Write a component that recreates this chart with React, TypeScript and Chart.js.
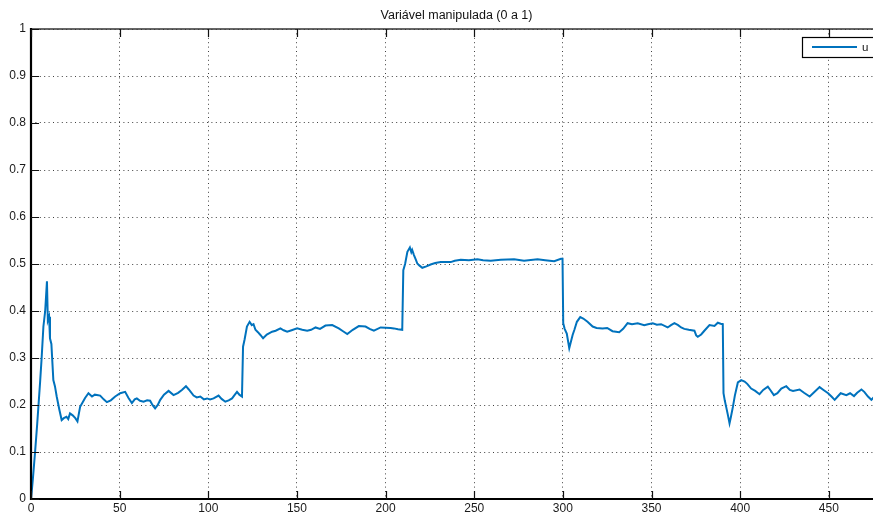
import React, { useEffect, useRef } from "react";
import { Chart, registerables } from "chart.js";

Chart.register(...registerables);

const TITLE = "Variável manipulada (0 a 1)";
const SERIES_LABEL = "u";

// time (x) and manipulated variable (u)
const tValues: number[] = [
  0, 1, 2.3, 3.5, 5.1, 6, 7, 8, 9, 9.5, 10.2, 10.7, 11.5, 12.6, 13.5, 14.5, 16, 17.3, 18.5, 20,
  21, 22, 23.5, 25, 26.2, 27.7, 29, 30.5, 32.4, 34.4, 36, 39, 41, 42.8, 45, 47.5, 50.3, 53.1, 55, 56.9,
  58.5, 59.7, 61.5, 63.5, 65.5, 67.2, 68.5, 70, 71.5, 72.9, 75, 77.6, 80.4, 83, 85.1, 87.4, 89, 91.7, 93.5, 95.5,
  97.5, 99.3, 101, 103, 105.8, 107.5, 109.6, 111.5, 113.4, 115, 116.2, 117.5, 119, 119.6, 120.5, 121.8, 123.3, 124.5, 125.5, 126.6,
  128, 129.4, 130.9, 133, 136, 138, 140.7, 142.5, 144.5, 147, 150.1, 153, 155.8, 158, 160.5, 163, 166.1, 169.9, 173.6, 176,
  178.4, 181.5, 184.9, 188.7, 191, 193.4, 197.2, 202.8, 204.7, 207, 209.4, 209.8, 210, 211, 212.3, 213.7, 214.5, 215, 216, 217,
  217.9, 219, 220.7, 223, 225.4, 228, 231.1, 236.7, 239, 242.4, 247, 251.8, 255, 259.3, 265, 272.5, 278.1, 285.7, 290, 295.1,
  298.9, 299.8, 300.2, 301, 302.2, 303.6, 304.2, 305.5, 306.5, 307.9, 309.8, 311.5, 313.9, 316.8, 319, 322.4, 325, 328, 331.8, 334,
  336.5, 339, 342.2, 345.9, 348, 350.7, 353, 355.4, 359.1, 361, 362.9, 365, 366.7, 368.5, 371, 374.2, 375.2, 376.1, 378, 379.8,
  382.7, 385.5, 387.4, 389, 390.2, 390.6, 391.3, 392.1, 393, 394, 394.8, 395.9, 397, 398.7, 400.6, 402.5, 404, 406.2, 408.5, 410.9,
  413, 415.6, 417, 419, 421, 423.2, 426, 428, 429.8, 433.5, 436, 439.2, 442, 444.8, 447, 449.6, 451.5, 453.3, 455, 456.7,
  459.9, 462, 464.2, 466, 468.4, 470, 472.1, 474, 475, 476, 478, 480,
];

const uValues: number[] = [
  0, 0.04, 0.1, 0.16, 0.247, 0.3, 0.367, 0.4, 0.463, 0.38, 0.388, 0.342, 0.33, 0.253, 0.24, 0.218, 0.19, 0.168, 0.172, 0.175,
  0.17, 0.182, 0.178, 0.172, 0.165, 0.196, 0.205, 0.215, 0.225, 0.218, 0.222, 0.22, 0.212, 0.206, 0.21, 0.218, 0.225, 0.228, 0.215, 0.204,
  0.212, 0.214, 0.209, 0.207, 0.21, 0.209, 0.2, 0.193, 0.2, 0.211, 0.222, 0.23, 0.221, 0.226, 0.232, 0.24, 0.233, 0.22, 0.216, 0.218,
  0.212, 0.214, 0.212, 0.214, 0.22, 0.213, 0.207, 0.21, 0.214, 0.222, 0.228, 0.222, 0.218, 0.324, 0.34, 0.367, 0.377, 0.37, 0.372, 0.36,
  0.355, 0.349, 0.342, 0.35, 0.356, 0.358, 0.363, 0.359, 0.356, 0.359, 0.363, 0.36, 0.358, 0.36, 0.365, 0.362, 0.369, 0.37, 0.363, 0.357,
  0.351, 0.36, 0.368, 0.367, 0.362, 0.358, 0.365, 0.364, 0.363, 0.361, 0.36, 0.36, 0.487, 0.5, 0.526, 0.535, 0.525, 0.53, 0.519, 0.51,
  0.501, 0.497, 0.492, 0.495, 0.499, 0.502, 0.504, 0.504, 0.507, 0.509, 0.508, 0.51, 0.508, 0.507, 0.509, 0.51, 0.507, 0.51, 0.508, 0.506,
  0.511, 0.511, 0.374, 0.362, 0.352, 0.321, 0.33, 0.349, 0.36, 0.377, 0.387, 0.384, 0.377, 0.367, 0.364, 0.363, 0.364, 0.357, 0.355, 0.362,
  0.374, 0.372, 0.374, 0.37, 0.372, 0.374, 0.371, 0.372, 0.365, 0.37, 0.374, 0.37, 0.365, 0.362, 0.36, 0.358, 0.348, 0.345, 0.35, 0.358,
  0.37, 0.368, 0.375, 0.373, 0.372, 0.225, 0.21, 0.196, 0.18, 0.161, 0.175, 0.196, 0.22, 0.248, 0.253, 0.25, 0.245, 0.235, 0.23, 0.223,
  0.232, 0.239, 0.232, 0.221, 0.225, 0.235, 0.24, 0.232, 0.23, 0.233, 0.226, 0.218, 0.228, 0.238, 0.232, 0.225, 0.218, 0.211, 0.218, 0.225,
  0.221, 0.225, 0.219, 0.226, 0.233, 0.228, 0.218, 0.211, 0.215, 0.214, 0.216, 0.215,
];

const xMin = 0;
const xMax = 480;
const xStep = 50;
const yMin = 0;
const yMax = 1;
const yStep = 0.1;

const FONT = "'Liberation Sans', Arial, Helvetica, sans-serif";
const LINE_COLOR = "#0072BD";
const CANVAS_W = 884;
const CANVAS_H = 517;

export default function App() {
  const ref = useRef<HTMLCanvasElement | null>(null);

  useEffect(() => {
    if (!ref.current) return;
    const points = tValues.map((t, i) => ({ x: t, y: uValues[i] }));

    const framePlugin = {
      id: "matlabFrame",
      afterDraw(chart: any) {
        const { ctx, chartArea } = chart;
        const { left, right, top, bottom } = chartArea;
        const xs = chart.scales.x;
        const ys = chart.scales.y;
        ctx.save();
        // top border
        ctx.strokeStyle = "#333";
        ctx.lineWidth = 1.5;
        ctx.beginPath();
        ctx.moveTo(left, top);
        ctx.lineTo(right, top);
        ctx.stroke();
        // left and bottom axes
        ctx.strokeStyle = "#000";
        ctx.lineWidth = 2.2;
        ctx.beginPath();
        ctx.moveTo(left, top - 1);
        ctx.lineTo(left, bottom + 1);
        ctx.moveTo(left - 1, bottom);
        ctx.lineTo(right, bottom);
        ctx.stroke();
        // inward ticks
        ctx.lineWidth = 1.2;
        ctx.strokeStyle = "#111";
        ctx.beginPath();
        xs.ticks.forEach((tk: any) => {
          const px = Math.round(xs.getPixelForValue(tk.value)) + 0.5;
          ctx.moveTo(px, bottom);
          ctx.lineTo(px, bottom - 8);
          ctx.moveTo(px, top);
          ctx.lineTo(px, top + 8);
        });
        ys.ticks.forEach((tk: any) => {
          const py = Math.round(ys.getPixelForValue(tk.value)) + 0.5;
          ctx.moveTo(left, py);
          ctx.lineTo(left + 8, py);
        });
        ctx.stroke();

        // title
        ctx.fillStyle = "#111";
        ctx.font = `12.5px ${FONT}`;
        ctx.textAlign = "center";
        ctx.textBaseline = "middle";
        ctx.fillText(TITLE, (left + right) / 2, 15.5);

        // legend
        const bx = 802.5;
        const by = 37.5;
        ctx.fillStyle = "#fff";
        ctx.fillRect(bx, by, 75, 20);
        ctx.strokeStyle = "#000";
        ctx.lineWidth = 1.2;
        ctx.strokeRect(bx, by, 75, 20);
        ctx.strokeStyle = LINE_COLOR;
        ctx.lineWidth = 2;
        ctx.beginPath();
        ctx.moveTo(812, 47);
        ctx.lineTo(857, 47);
        ctx.stroke();
        ctx.fillStyle = "#111";
        ctx.font = `11.5px ${FONT}`;
        ctx.textAlign = "left";
        ctx.textBaseline = "middle";
        ctx.fillText(SERIES_LABEL, 862, 47.5);
        ctx.restore();
      },
    };

    const chart = new Chart(ref.current, {
      type: "line",
      data: {
        datasets: [
          {
            label: SERIES_LABEL,
            data: points,
            borderColor: LINE_COLOR,
            backgroundColor: LINE_COLOR,
            borderWidth: 2,
            pointRadius: 0,
            tension: 0,
            fill: false,
          },
        ],
      },
      options: {
        animation: false,
        responsive: false,
        devicePixelRatio: 1,
        layout: { padding: { top: 29, right: 2, left: 0, bottom: 0 } },
        plugins: {
          legend: { display: false },
          title: { display: false },
          tooltip: { enabled: false },
        },
        scales: {
          x: {
            type: "linear",
            min: xMin,
            max: xMax,
            afterFit: (s: any) => {
              s.height = 18;
            },
            ticks: {
              stepSize: xStep,
              includeBounds: false,
              autoSkip: false,
              maxRotation: 0,
              padding: 2,
              color: "#1a1a1a",
              font: { family: FONT, size: 12 },
            },
            grid: {
              color: "rgba(0,0,0,0.75)",
              lineWidth: 1,
              drawTicks: false,
            },
            border: { display: false, dash: [1, 3.4] },
          },
          y: {
            type: "linear",
            min: yMin,
            max: yMax,
            afterFit: (s: any) => {
              s.width = 31;
            },
            ticks: {
              stepSize: yStep,
              autoSkip: false,
              padding: 5,
              color: "#1a1a1a",
              font: { family: FONT, size: 12 },
              callback: (v: any) => String(Math.round(Number(v) * 10) / 10),
            },
            grid: {
              color: "rgba(0,0,0,0.75)",
              lineWidth: 1,
              drawTicks: false,
            },
            border: { display: false, dash: [1, 3.4] },
          },
        },
      },
      plugins: [framePlugin],
    });
    return () => chart.destroy();
  }, []);

  return (
    <div
      style={{
        position: "fixed",
        left: 0,
        top: 0,
        width: 873,
        height: 517,
        overflow: "hidden",
        background: "#fff",
      }}
    >
      <canvas ref={ref} width={CANVAS_W} height={CANVAS_H} style={{ display: "block", width: CANVAS_W, height: CANVAS_H }} />
    </div>
  );
}
